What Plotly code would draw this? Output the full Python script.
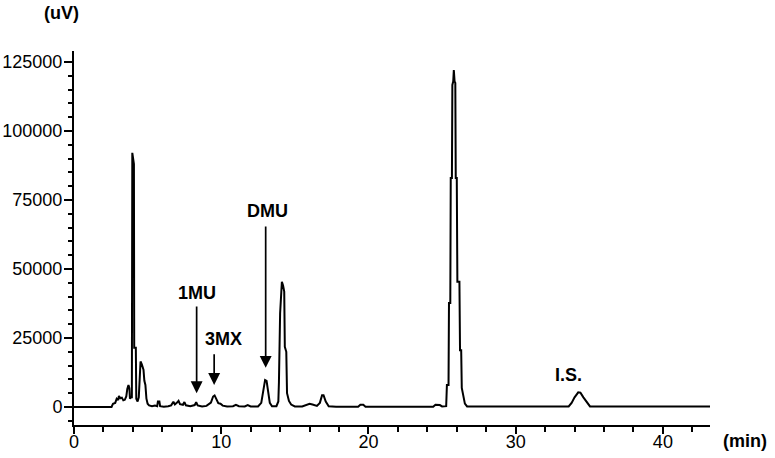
import plotly.graph_objects as go

# Retention time (min) and detector signal (uV)
time_min = [
    0, 2.55, 2.65, 2.8, 2.9, 3.0, 3.05, 3.15, 3.25, 3.35, 3.45, 3.55, 3.62, 3.7, 3.76, 3.8,
    3.88, 3.93, 3.96, 4.0, 4.03, 4.07, 4.09, 4.2, 4.23, 4.32, 4.4, 4.47, 4.52, 4.6, 4.65,
    4.72, 4.78, 4.85, 4.92, 5.0, 5.1, 5.3, 5.5, 5.65, 5.7, 5.8, 5.85, 6.1, 6.4, 6.6, 6.75,
    6.85, 7.0, 7.1, 7.2, 7.4, 7.5, 7.6, 7.9, 8.2, 8.3, 8.4, 8.7, 9.0, 9.3, 9.45, 9.55, 9.65,
    9.8, 9.95, 10.1, 10.4, 10.8, 11.0, 11.2, 11.6, 11.8, 12.0, 12.5, 12.72, 12.85, 12.98,
    13.08, 13.18, 13.3, 13.45, 13.75, 13.88, 13.92, 14.0, 14.12, 14.2, 14.28, 14.32, 14.42,
    14.47, 14.6, 14.75, 15.0, 15.5, 15.8, 16.0, 16.2, 16.5, 16.7, 16.85, 16.95, 17.1, 17.3,
    17.8, 19.3, 19.45, 19.65, 19.8, 24.4, 24.55, 24.85, 25.0, 25.28, 25.33, 25.44, 25.47,
    25.56, 25.59, 25.67, 25.7, 25.76, 25.8, 25.85, 25.9, 25.93, 26.0, 26.04, 26.18, 26.22,
    26.3, 26.34, 26.45, 26.55, 26.7, 33.6, 33.8, 34.0, 34.25, 34.4, 34.6, 34.85, 35.05, 43.2,
]
signal_uv = [
    0, 0, 1200, 1500, 3000, 2500, 4000, 3200, 3400, 2400, 2600, 3800, 6500, 8000, 6800, 3000,
    3500, 3500, 92100, 91000, 88900, 88000, 21500, 21500, 3000, 2000, 3500, 15000, 16500,
    15500, 14800, 13500, 9500, 8000, 3000, 1200, 600, 300, 500, 300, 2000, 2000, 300, 100,
    300, 600, 1900, 900, 1600, 2200, 1000, 800, 1800, 600, 300, 700, 1700, 600, 200, 400,
    1600, 3800, 4200, 3000, 1400, 1200, 500, 200, 300, 800, 300, 200, 700, 200, 200, 1500,
    6000, 9800, 9500, 6000, 1500, 300, 300, 2000, 9000, 33900, 45400, 44000, 41800, 21800,
    20000, 5000, 2200, 900, 200, 200, 800, 1200, 900, 400, 1500, 4300, 4300, 2000, 300, 100,
    100, 800, 800, 100, 100, 800, 700, 200, 300, 8000, 8000, 37700, 37700, 83000, 83000,
    116700, 118000, 122100, 118000, 117400, 83000, 83000, 45400, 45400, 20600, 20600, 6900,
    3000, 1200, 200, 200, 1500, 3500, 5300, 5200, 3500, 1500, 200, 200,
]

# Peak labels and arrow annotations
peak_labels = ["1MU", "3MX", "DMU", "TP", "I.S."]
label_x = [8.37, 10.13, 13.13, 26.0, 33.6]
label_y = [41300, 24600, 70900, 129500, 11600]

arrow_x = [8.33, 9.52, 13.02]
arrow_tip_y = [5000, 8000, 14200]
arrow_tail_y = [37000, 19700, 65900]

fig = go.Figure()
fig.add_trace(go.Scatter(
    x=time_min, y=signal_uv, mode="lines",
    line=dict(color="black", width=2), hoverinfo="skip", showlegend=False,
))

font_family = "Liberation Sans, Arial, sans-serif"
annotations = []
for name, x, y in zip(peak_labels, label_x, label_y):
    annotations.append(dict(
        x=x, y=y, xref="x", yref="y", text="<b>%s</b>" % name, showarrow=False,
        font=dict(family=font_family, size=18, color="black"),
        xanchor="center", yanchor="middle",
    ))
for x, tip, tail in zip(arrow_x, arrow_tip_y, arrow_tail_y):
    annotations.append(dict(
        x=x, y=tip, ax=x, ay=tail, xref="x", yref="y", axref="x", ayref="y",
        text="", showarrow=True, arrowhead=2, arrowsize=1.4, arrowwidth=1.7,
        arrowcolor="black", standoff=0,
    ))
annotations.append(dict(
    x=0.0, y=1.0, xref="paper", yref="paper", text="<b>(uV)</b>", showarrow=False,
    font=dict(family=font_family, size=18, color="black"),
    xanchor="center", yanchor="middle", xshift=-13, yshift=38,
))
annotations.append(dict(
    x=1.0, y=0.0, xref="paper", yref="paper", text="<b>(min)</b>", showarrow=False,
    font=dict(family=font_family, size=18, color="black"),
    xanchor="center", yanchor="middle", xshift=35, yshift=-16,
))

fig.update_layout(
    width=775, height=458,
    margin=dict(l=74, r=65, t=51, b=33, autoexpand=False),
    paper_bgcolor="white", plot_bgcolor="white",
    font=dict(family=font_family, size=18, color="black"),
    annotations=annotations,
    showlegend=False,
)
fig.update_xaxes(
    range=[0, 43.2], showgrid=False, zeroline=False, automargin=False,
    showline=True, linecolor="black", linewidth=2,
    tickmode="linear", tick0=0, dtick=10, tickformat="d",
    ticks="outside", ticklen=7, tickwidth=2, tickcolor="black",
    ticklabelstandoff=-8,
    minor=dict(dtick=2, ticks="outside", ticklen=5, tickwidth=2, tickcolor="black"),
    tickfont=dict(family=font_family, size=18, color="black"),
)
fig.update_yaxes(
    range=[-6520, 128980], showgrid=False, zeroline=False, automargin=False,
    showline=True, linecolor="black", linewidth=2,
    tickmode="linear", tick0=0, dtick=25000, tickformat="d",
    ticks="outside", ticklen=8, tickwidth=2, tickcolor="black",
    ticklabelstandoff=-2,
    minor=dict(dtick=5000, ticks="outside", ticklen=4, tickwidth=2, tickcolor="black"),
    tickfont=dict(family=font_family, size=18, color="black"),
)

# Remove the browser's default 8 px body margin so the figure fills the window.
fig.write_html(
    "out.html",
    config={"displayModeBar": False},
    post_script="document.body.style.margin='0';document.body.style.overflow='hidden';",
)
